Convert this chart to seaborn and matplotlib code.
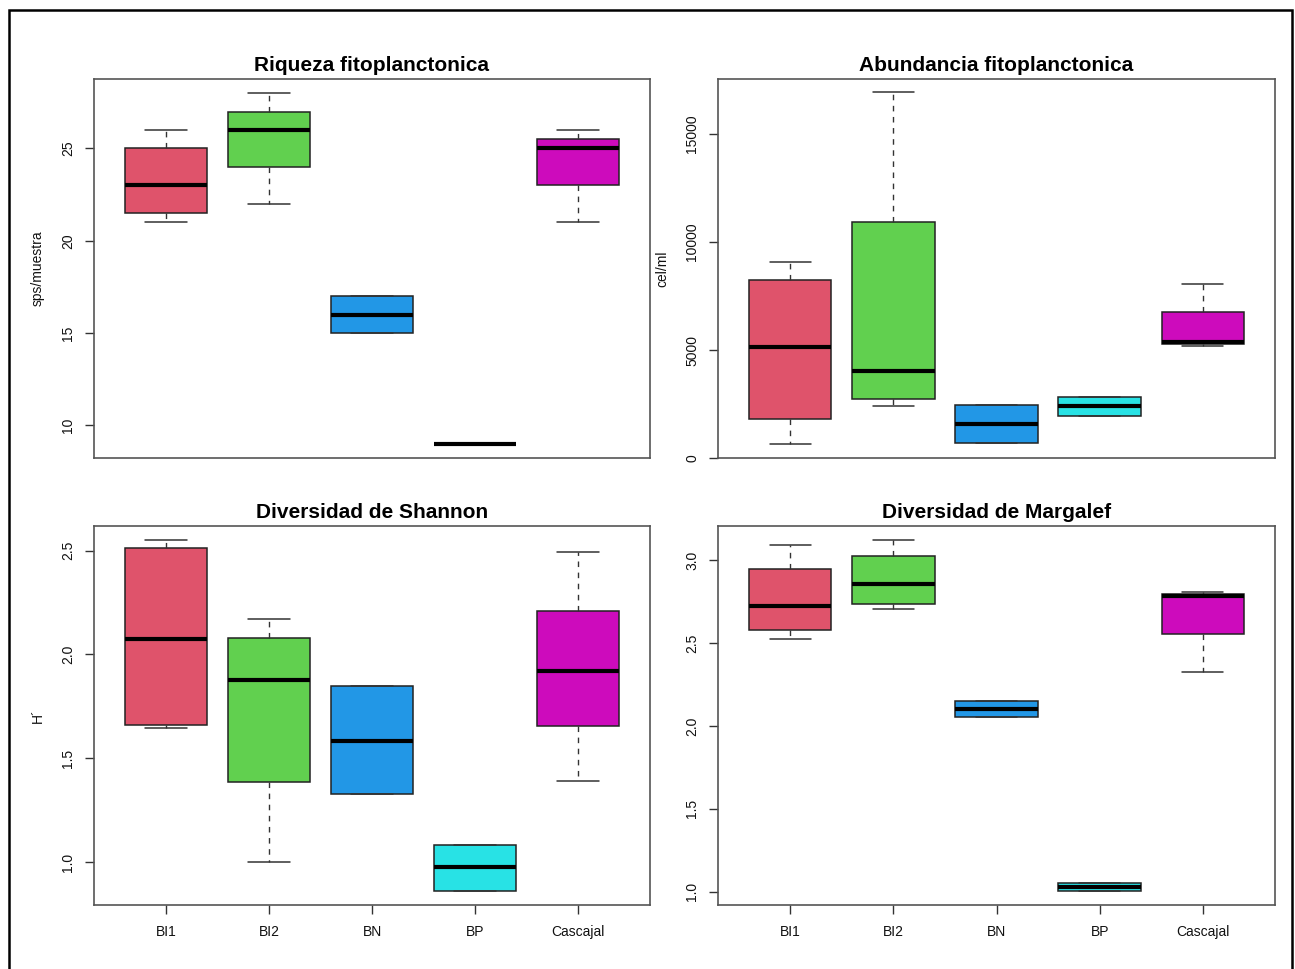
import matplotlib
matplotlib.use("Agg")
import matplotlib.pyplot as plt
import numpy as np
import pandas as pd
import seaborn as sns
from matplotlib.patches import Rectangle
from matplotlib.ticker import FormatStrFormatter

sitios = ["BI1", "BI2", "BN", "BP", "Cascajal"]
colores = ["#DF536B", "#61D04F", "#2297E6", "#28E2E5", "#CD0BBC"]

# five values per site: min, Q1, median, Q3, max
riqueza = [
    [21, 21.5, 23, 25, 26],
    [22, 24, 26, 27, 28],
    [15, 15, 16, 17, 17],
    [9, 9, 9, 9, 9],
    [21, 23, 25, 25.5, 26],
]
abundancia = [
    [660, 1790, 5150, 8250, 9060],
    [2390, 2750, 4010, 10950, 16930],
    [690, 690, 1590, 2440, 2440],
    [1940, 1940, 2390, 2820, 2820],
    [5200, 5290, 5380, 6740, 8070],
]
shannon = [
    [1.647, 1.662, 2.074, 2.510, 2.551],
    [1.0, 1.385, 1.878, 2.079, 2.171],
    [1.329, 1.329, 1.585, 1.846, 1.846],
    [0.861, 0.861, 0.974, 1.080, 1.080],
    [1.389, 1.657, 1.918, 2.207, 2.495],
]
margalef = [
    [2.523, 2.581, 2.723, 2.948, 3.090],
    [2.703, 2.735, 2.858, 3.024, 3.120],
    [2.053, 2.053, 2.103, 2.151, 2.151],
    [1.006, 1.006, 1.030, 1.056, 1.056],
    [2.324, 2.555, 2.783, 2.793, 2.805],
]

titulos = ["Riqueza fitoplanctonica", "Abundancia fitoplanctonica",
           "Diversidad de Shannon", "Diversidad de Margalef"]
etiquetas_y = ["sps/muestra", "cel/ml", "H´", ""]
ticks_y = [[10, 15, 20, 25], [0, 5000, 10000, 15000],
           [1.0, 1.5, 2.0, 2.5], [1.0, 1.5, 2.0, 2.5, 3.0]]
limites_y = [(8.24, 28.76), (0, 17550), (0.793, 2.618), (0.921, 3.205)]
formatos = ["%d", "%d", "%.1f", "%.1f"]

sns.set_style("white")
plt.rcParams["font.family"] = ["Liberation Sans", "DejaVu Sans"]
plt.rcParams["text.color"] = "black"

W, H = 1295, 969
fig = plt.figure(figsize=(W / 100, H / 100), dpi=100)

# axes boxes in pixels: left, top, right, bottom
cajas = [(94, 79, 650, 458), (718, 79, 1275, 458),
         (94, 526, 650, 905), (718, 526, 1275, 905)]

for i, datos in enumerate([riqueza, abundancia, shannon, margalef]):
    l, t, r, b = cajas[i]
    ax = fig.add_axes([l / W, 1 - b / H, (r - l) / W, (b - t) / H])
    df = pd.DataFrame({"sitio": np.repeat(sitios, 5),
                       "valor": np.concatenate(datos)})
    sns.boxplot(data=df, x="sitio", y="valor", hue="sitio", order=sitios,
                hue_order=sitios, palette=colores, saturation=1, width=0.8,
                whis=(0, 100), linecolor="#222222", linewidth=1.1,
                medianprops={"color": "black", "linewidth": 3},
                whiskerprops={"linestyle": (0, (4, 4)), "linewidth": 1,
                              "color": "#333333"},
                capprops={"linewidth": 1.1, "color": "#333333"},
                legend=False, ax=ax)
    ax.set_xlim(-0.7, 4.7)
    ax.set_ylim(*limites_y[i])
    ax.set_yticks(ticks_y[i])
    ax.yaxis.set_major_formatter(FormatStrFormatter(formatos[i]))
    ax.set_title(titulos[i], fontsize=15, fontweight="bold", pad=6,
                 color="black")
    ax.set_xlabel("")
    ax.set_ylabel(etiquetas_y[i], fontsize=10, color="#111111")
    ax.yaxis.set_label_coords(-49 / (r - l), 0.5)
    for s in ax.spines.values():
        s.set_visible(True)
        s.set_color("#555555")
        s.set_linewidth(1.2)
    ax.tick_params(axis="y", direction="out", length=6.5, width=1,
                   color="#333333", pad=7, labelsize=10,
                   labelcolor="#111111", left=True, labelrotation=90)
    for lab in ax.get_yticklabels():
        lab.set_va("center")
    if i < 2:
        ax.tick_params(axis="x", bottom=False, labelbottom=False)
    else:
        ax.tick_params(axis="x", direction="out", length=6.5, width=1,
                       color="#333333", pad=8, labelsize=10,
                       labelcolor="#111111", bottom=True)

fig.patches.append(Rectangle((9 / W, -0.05), (1292 - 9) / W, 1.05 - 10 / H,
                             transform=fig.transFigure, fill=False,
                             edgecolor="black", linewidth=1.8))

fig.savefig("out.png", dpi=100)
